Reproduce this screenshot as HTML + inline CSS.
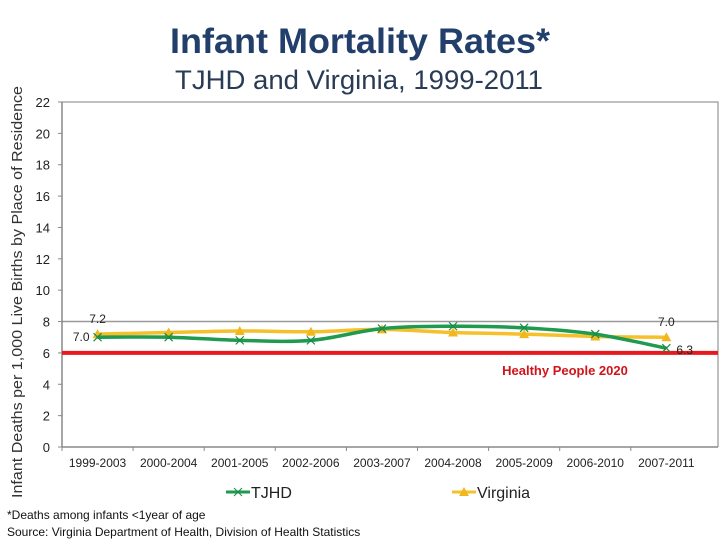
<!DOCTYPE html>
<html><head><meta charset="utf-8"><style>
body{margin:0;background:#fff;}
svg{display:block;font-family:"Liberation Sans",sans-serif;}
</style></head><body>
<svg id="c" width="720" height="540">
<text x="360" y="53" text-anchor="middle" font-size="35" font-weight="bold" fill="#223f6b" textLength="380" lengthAdjust="spacingAndGlyphs">Infant Mortality Rates*</text>
<text x="359" y="89" text-anchor="middle" font-size="27" fill="#2a3b55" textLength="368" lengthAdjust="spacingAndGlyphs">TJHD and Virginia, 1999-2011</text>
<text transform="translate(22,292) rotate(-90)" text-anchor="middle" font-size="15" fill="#333" textLength="412" lengthAdjust="spacingAndGlyphs">Infant Deaths per 1,000 Live Births by Place of Residence</text>
<g id="g"></g>
<text x="7" y="519" font-size="12" fill="#111">*Deaths among infants &lt;1year of age</text>
<text x="7" y="536" font-size="12" fill="#111">Source: Virginia Department of Health, Division of Health Statistics</text>
</svg>
<script>
const categories=["1999-2003","2000-2004","2001-2005","2002-2006","2003-2007","2004-2008","2005-2009","2006-2010","2007-2011"];
const tjhd=[7.0,7.0,6.8,6.8,7.55,7.7,7.6,7.2,6.3];
const virginia=[7.2,7.3,7.4,7.35,7.5,7.3,7.2,7.05,7.0];
const yTicks=[0,2,4,6,8,10,12,14,16,18,20,22];
const target=6;
const NS="http://www.w3.org/2000/svg";
const g=document.getElementById('g');
const L=62,R=718,T=102,B=447,CW=71.1;
const y=v=>B-(v/22)*(B-T);
const x=i=>L+CW*(i+0.5);
function el(t,a,txt){const e=document.createElementNS(NS,t);for(const k in a)e.setAttribute(k,a[k]);if(txt!==undefined)e.textContent=txt;g.appendChild(e);return e;}
let e;
e=el('path',{d:`M${L} ${T}H${R}V${B}`,fill:'none',stroke:'#aaa','stroke-width':1.5});


e=el('line',{x1:L,x2:R,y1:y(8),y2:y(8),stroke:'#999','stroke-width':1.5});


e=el('line',{x1:L,x2:L,y1:T,y2:B,stroke:'#888','stroke-width':1.5});


e=el('line',{x1:L,x2:R,y1:B,y2:B,stroke:'#888','stroke-width':1.5});


yTicks.forEach(v=>{
 el('line',{x1:L-4,x2:L,y1:y(v),y2:y(v),stroke:'#888'});
 e=el('text',{x:L-12,y:y(v)+5,'text-anchor':'end','font-size':13,fill:'#222'},v);
 
 
});
categories.forEach((c,i)=>{
 el('line',{x1:L+CW*i,x2:L+CW*i,y1:B,y2:B+4,stroke:'#888'});
 e=el('text',{x:x(i),y:467,'text-anchor':'middle','font-size':12,fill:'#222'},c);
 
 
});
e=el('line',{x1:L,x2:R,y1:y(target),y2:y(target),stroke:'#e8191e','stroke-width':4});


e=el('text',{x:565,y:375,'text-anchor':'middle','font-size':13,'font-weight':'bold',fill:'#d0141a'},'Healthy People 2020');


function smooth(vals){
 const p=vals.map((v,i)=>[x(i),y(v)]);let d=`M${p[0][0]} ${p[0][1]}`;
 for(let i=0;i<p.length-1;i++){const p0=p[i-1]||p[i],p1=p[i],p2=p[i+1],p3=p[i+2]||p2;
  const c1=[p1[0]+(p2[0]-p0[0])/6,p1[1]+(p2[1]-p0[1])/6],c2=[p2[0]-(p3[0]-p1[0])/6,p2[1]-(p3[1]-p1[1])/6];
  d+=`C${c1[0]} ${c1[1]} ${c2[0]} ${c2[1]} ${p2[0]} ${p2[1]}`;}
 return d;}
e=el('path',{d:smooth(virginia),fill:'none',stroke:'#f5c02a','stroke-width':3.5});


virginia.forEach((v,i)=>{
 e=el('path',{d:`M${x(i)-5} ${y(v)+4}L${x(i)} ${y(v)-5}L${x(i)+5} ${y(v)+4}Z`,fill:'#f0b81e'});
 
 
});
e=el('path',{d:smooth(tjhd),fill:'none',stroke:'#1f9a4e','stroke-width':3.5});


tjhd.forEach((v,i)=>{
 e=el('path',{d:`M${x(i)-4} ${y(v)-4}L${x(i)+4} ${y(v)+4}M${x(i)-4} ${y(v)+4}L${x(i)+4} ${y(v)-4}`,stroke:'#1a8a45','stroke-width':1.2});
 
 
});
const n=categories.length-1;
[[x(0),y(virginia[0])-11,virginia[0],'middle'],[x(0)-8,y(tjhd[0])+4,tjhd[0],'end'],[x(n),y(virginia[n])-11,virginia[n],'middle'],[x(n)+10,y(tjhd[n])+6,tjhd[n],'start']].forEach(a=>{
 e=el('text',{x:a[0],y:a[1],'text-anchor':a[3],'font-size':12,fill:'#222'},a[2].toFixed(1));
 
 
});
e=el('line',{x1:226,x2:250,y1:492,y2:492,stroke:'#1f9a4e','stroke-width':3});


el('path',{d:'M234 488L242 496M234 496L242 488',stroke:'#1a8a45'});
e=el('text',{x:251,y:498,'font-size':16,fill:'#222'},'TJHD');


e=el('line',{x1:452,x2:476,y1:492,y2:492,stroke:'#f5c02a','stroke-width':3});


el('path',{d:'M459 496L464 487L469 496Z',fill:'#f0b81e'});
e=el('text',{x:477,y:498,'font-size':16,fill:'#222'},'Virginia');


</script>
</body></html>
